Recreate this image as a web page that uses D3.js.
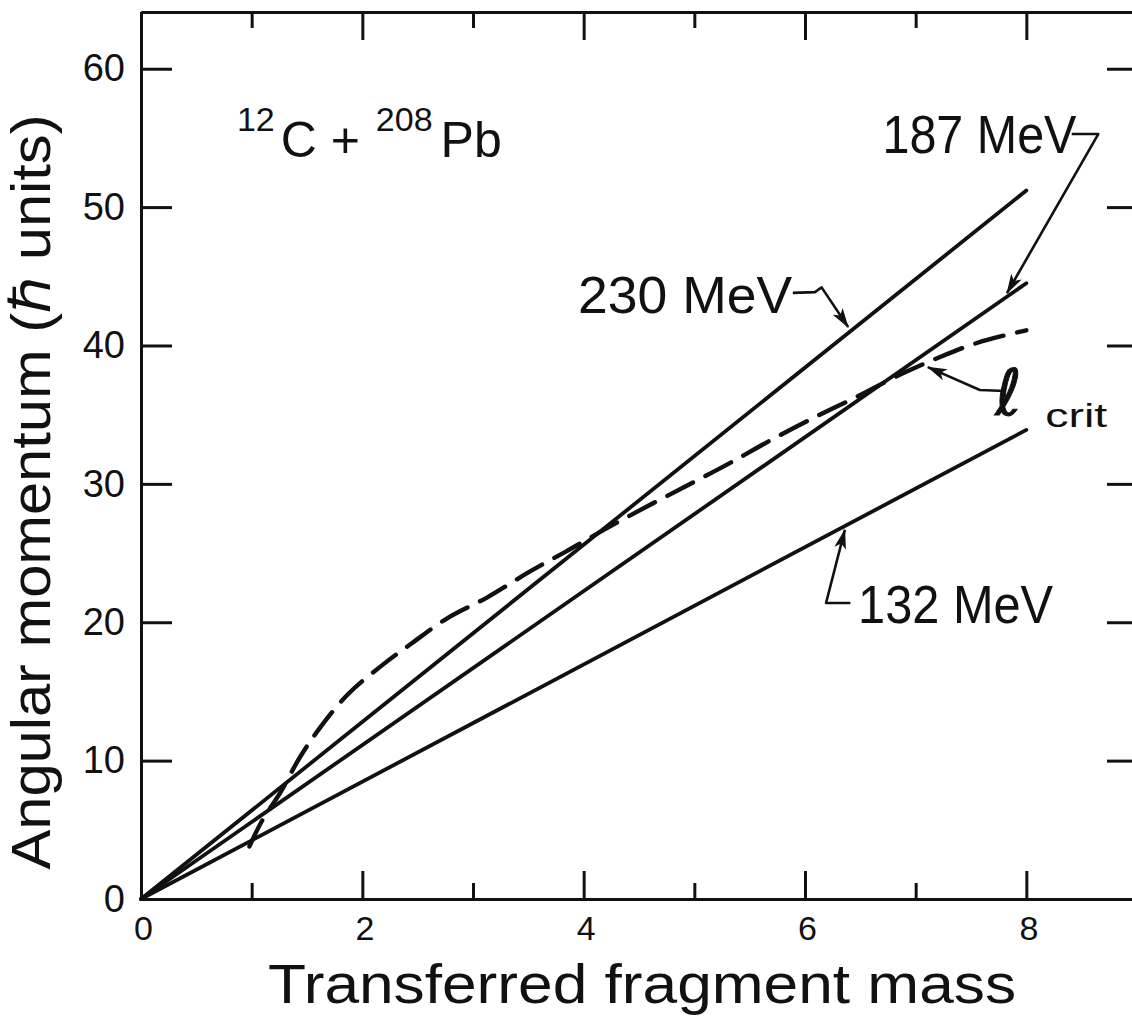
<!DOCTYPE html>
<html><head><meta charset="utf-8">
<script src="https://cdn.jsdelivr.net/npm/d3@7"></script>
<style>
html,body{margin:0;padding:0;background:#fff;}
svg{display:block;}
text{font-family:"Liberation Sans",Arial,sans-serif;fill:#111;}
</style></head>
<body>
<svg id="chart" width="1132" height="1035"></svg>
<script>
// ---- data ----
const massEnds = [0, 8];
const line230 = [0, 51.2];
const line187 = [0, 44.5];
const line132 = [0, 33.9];
const energyLabels = ["230 MeV", "187 MeV", "132 MeV"];
const lcritX = [0.98, 1.09, 1.26, 1.44, 1.62, 1.87, 2.18, 2.45, 2.77, 3.13, 3.50, 3.86, 4.21, 4.58, 4.94, 5.32, 5.70, 6.11, 6.47, 6.86, 7.20, 7.56, 8.0];
const lcritY = [3.8, 5.6, 7.7, 10.3, 12.4, 14.8, 16.9, 18.5, 20.3, 21.8, 23.6, 25.2, 26.8, 28.4, 29.9, 31.5, 33.2, 34.9, 36.3, 37.9, 39.1, 40.2, 41.1];
const xMajorTicks = [0, 2, 4, 6, 8];
const xMinorTicks = [1, 3, 5, 7];
const yTicks = [0, 10, 20, 30, 40, 50, 60];
const xTitle = "Transferred fragment mass";
const yTitle = "Angular momentum (\u210F units)";

// ---- scales ----
const svg = d3.select("#chart");
const x = d3.scaleLinear().domain([0, 9]).range([141, 1137]);
const y = d3.scaleLinear().domain([0, 64.1]).range([899, 12]);

// ---- axes ----
const axW = 3;
function styleAxis(g, fs) {
  g.attr("font-size", fs).attr("font-family", "'Liberation Sans',Arial,sans-serif");
  g.selectAll("path.domain").attr("stroke", "#111").attr("stroke-width", axW);
  g.selectAll(".tick line").attr("stroke", "#111").attr("stroke-width", axW);
  g.selectAll(".tick text").style("font-size", fs + "px").attr("fill", "#111");
}
const gB = svg.append("g").attr("transform", `translate(0,${y(0)})`)
  .call(d3.axisBottom(x).tickValues(xMajorTicks).tickSize(-28).tickSizeOuter(0).tickPadding(17).tickFormat(d3.format("d")));
styleAxis(gB, 34);
gB.selectAll(".tick text").attr("dx", 2);
const gBm = svg.append("g").attr("transform", `translate(0,${y(0)})`)
  .call(d3.axisBottom(x).tickValues(xMinorTicks).tickSize(-16).tickSizeOuter(0).tickFormat(""));
styleAxis(gBm, 34);
const gT = svg.append("g").attr("transform", `translate(0,${y(64.1)})`)
  .call(d3.axisTop(x).tickValues(xMajorTicks.concat([9])).tickSize(-28).tickSizeOuter(0).tickFormat(""));
styleAxis(gT, 34);
const gTm = svg.append("g").attr("transform", `translate(0,${y(64.1)})`)
  .call(d3.axisTop(x).tickValues(xMinorTicks).tickSize(-16).tickSizeOuter(0).tickFormat(""));
styleAxis(gTm, 34);
const gL = svg.append("g").attr("transform", `translate(${x(0)},0)`)
  .call(d3.axisLeft(y).tickValues(yTicks).tickSize(-31).tickSizeOuter(0).tickPadding(16).tickFormat(d3.format("d")));
styleAxis(gL, 38);
const gR = svg.append("g").attr("transform", `translate(${x(9)},0)`)
  .call(d3.axisRight(y).tickValues(yTicks.slice(1)).tickSize(-30).tickSizeOuter(0).tickFormat(""));
styleAxis(gR, 38);

// ---- axis titles ----
svg.append("text").attr("x", 642).attr("y", 1003).attr("text-anchor", "middle")
  .style("font-size", "56px").attr("textLength", 748).attr("lengthAdjust", "spacingAndGlyphs").text(xTitle);
svg.append("text").attr("transform", "translate(50,492) rotate(-90)").attr("text-anchor", "middle")
  .style("font-size", "56px").attr("textLength", 755).attr("lengthAdjust", "spacingAndGlyphs").text(yTitle);

// ---- lines ----
const lineGen = d3.line().x(d => x(d[0])).y(d => y(d[1]));
[line230, line187, line132].forEach(v => {
  svg.append("path").datum(massEnds.map((m, i) => [m, v[i]]))
    .attr("d", lineGen).attr("fill", "none").attr("stroke", "#111")
    .attr("stroke-width", 3.8).attr("stroke-linecap", "round");
});
const curveGen = d3.line().x(d => x(d[0])).y(d => y(d[1])).curve(d3.curveCatmullRom.alpha(0.5));
svg.append("path").datum(lcritX.map((m, i) => [m, lcritY[i]]))
  .attr("d", curveGen).attr("fill", "none").attr("stroke", "#111")
  .attr("stroke-width", 4.4).attr("stroke-dasharray", "29,14").attr("stroke-linecap", "round");

// ---- annotations ----
svg.append("defs").append("marker").attr("id", "ah").attr("viewBox", "0 0 20 12")
  .attr("refX", 19).attr("refY", 6).attr("markerWidth", 20).attr("markerHeight", 12)
  .attr("markerUnits", "userSpaceOnUse").attr("orient", "auto")
  .append("path").attr("d", "M0,0 L20,6 L0,12 L5,6 Z").attr("fill", "#111");

const arrow = pts => svg.append("path").attr("d", d3.line().x(d => x(d[0])).y(d => y(d[1]))(pts))
  .attr("fill", "none").attr("stroke", "#111").attr("stroke-width", 2.6)
  .attr("stroke-linejoin", "round").attr("marker-end", "url(#ah)");

const label = (tx, ty, str, fs, w) => {
  const t = svg.append("text").attr("x", x(tx)).attr("y", y(ty)).style("font-size", fs + "px").text(str);
  if (w) t.attr("textLength", w).attr("lengthAdjust", "spacingAndGlyphs");
  return t;
};
label(3.95, 42.35, energyLabels[0], 52, 214);
arrow([[5.89, 43.8], [6.09, 43.86], [6.15, 44.2], [6.39, 41.33]]);
label(6.70, 53.9, energyLabels[1], 54, 194);
arrow([[8.41, 55.28], [8.65, 55.28], [7.825, 43.79]]);
label(6.48, 19.94, energyLabels[2], 54, 195);
arrow([[6.41, 21.39], [6.19, 21.39], [6.36, 26.67]]);
arrow([[7.81, 36.71], [7.58, 36.78], [7.11, 38.44]]);
svg.append("text").attr("x", x(7.72)).attr("y", y(35.0))
  .style("font-size", "64px").style("font-family", "'DejaVu Sans',sans-serif").style("font-style", "italic")
  .attr("stroke", "#111").attr("stroke-width", 1).text("\u2113");
label(8.17, 34.1, "crit", 34, 62);

// system label 12C + 208Pb
const sys = svg.append("text").attr("x", x(0.867)).attr("y", y(55.5));
sys.append("tspan").style("font-size", "34px").text("12");
sys.append("tspan").attr("dy", 26).attr("dx", 6).style("font-size", "50px").text("C + ");
sys.append("tspan").attr("dy", -26).attr("dx", 2).style("font-size", "34px").text("208");
sys.append("tspan").attr("dy", 26).attr("dx", 8).style("font-size", "50px").text("Pb");
</script>
</body></html>
